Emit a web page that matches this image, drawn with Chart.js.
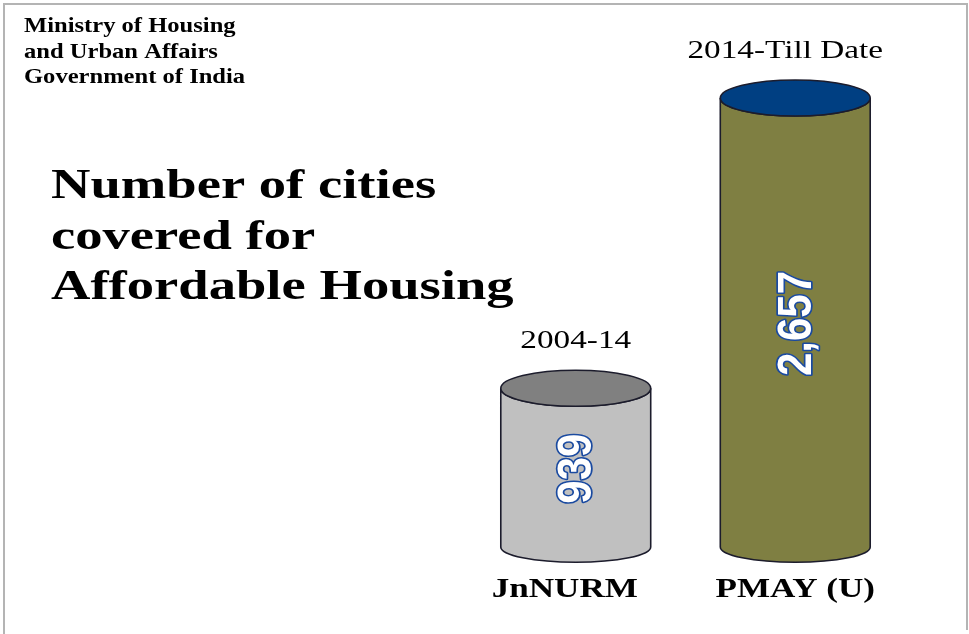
<!DOCTYPE html>
<html>
<head>
<meta charset="utf-8">
<script src="https://cdn.jsdelivr.net/npm/chart.js@4/dist/chart.umd.min.js"></script>
<style>
  html, body { margin: 0; padding: 0; background: #fff; }
  canvas { display: block; }
</style>
</head>
<body>
<canvas id="citiesChart" width="969" height="634"></canvas>
<script>
// Data
const schemes = ['JnNURM', 'PMAY (U)'];
const periods = ['2004-14', '2014-Till Date'];
const citiesCovered = [939, 2657];

const headerLines = ['Ministry of Housing', 'and Urban Affairs', 'Government of India'];
const titleLines = ['Number of cities', 'covered for', 'Affordable Housing'];

// Styles
const sideColors = ['#c0c0c0', '#7f7f42'];
const topColors = ['#808080', '#003f82'];
const outline = '#1c1c2c';
const ELLIPSE_RY = 18;
const SERIF = '"Liberation Serif", "Times New Roman", serif';
const SANS = '"Liberation Sans", Arial, sans-serif';

// the original slide is stretched sideways, so text gets a horizontal scale
function stretchedText(ctx, text, x, y, font, sx, align) {
    ctx.save();
    ctx.translate(x, y);
    ctx.scale(sx, 1);
    ctx.font = font;
    ctx.textAlign = align || 'left';
    ctx.textBaseline = 'alphabetic';
    ctx.fillStyle = '#000';
    ctx.fillText(text, 0, 0);
    ctx.restore();
}

const frameAndTitles = {
    id: 'frameAndTitles',
    beforeDraw(chart) {
        const ctx = chart.ctx;
        ctx.save();
        ctx.fillStyle = '#fff';
        ctx.fillRect(0, 0, chart.width, chart.height);
        // thin grey frame
        ctx.strokeStyle = '#b4b4b4';
        ctx.lineWidth = 2;
        ctx.beginPath();
        ctx.moveTo(4, chart.height);
        ctx.lineTo(4, 4);
        ctx.lineTo(967, 4);
        ctx.lineTo(967, chart.height - 4);
        ctx.stroke();
        ctx.restore();

        headerLines.forEach((line, i) => {
            stretchedText(ctx, line, 24, 32 + i * 25.5, 'bold 21px ' + SERIF, 1.17);
        });
        titleLines.forEach((line, i) => {
            stretchedText(ctx, line, 51, 198 + i * 50.5, 'bold 42px ' + SERIF, 1.3);
        });
    }
};

// Turns each bar element into a cylinder
const cylinders = {
    id: 'cylinders',
    afterDatasetsDraw(chart) {
        const ctx = chart.ctx;
        const meta = chart.getDatasetMeta(0);
        const periodShift = [0, -10];
        const labelShift = [-11, 0];

        meta.data.forEach((bar, i) => {
            const p = bar.getProps(['x', 'y', 'base', 'width'], true);
            const rx = p.width / 2;
            const left = p.x - rx;
            const right = p.x + rx;
            const ry = ELLIPSE_RY;

            ctx.save();
            ctx.lineWidth = 1.6;
            ctx.strokeStyle = outline;

            // body
            ctx.beginPath();
            ctx.moveTo(left, p.y);
            ctx.lineTo(left, p.base);
            ctx.ellipse(p.x, p.base, rx, ry * 0.85, 0, Math.PI, 0, true);
            ctx.lineTo(right, p.y);
            ctx.ellipse(p.x, p.y, rx, ry, 0, 0, Math.PI, false);
            ctx.closePath();
            ctx.fillStyle = sideColors[i];
            ctx.fill();
            ctx.stroke();

            // top
            ctx.beginPath();
            ctx.ellipse(p.x, p.y, rx, ry, 0, 0, Math.PI * 2);
            ctx.fillStyle = topColors[i];
            ctx.fill();
            ctx.stroke();
            ctx.restore();

            // period above, scheme below
            stretchedText(ctx, periods[i], p.x + periodShift[i], p.y - ry - 22,
                '25px ' + SERIF, 1.33, 'center');
            stretchedText(ctx, schemes[i], p.x + labelShift[i], p.base + 50,
                'bold 27px ' + SERIF, 1.3, 'center');

            // rotated value inside the cylinder
            const value = citiesCovered[i].toLocaleString('en-US');
            ctx.save();
            ctx.translate(p.x + 2, (p.y + p.base) / 2 + 1);
            ctx.rotate(-Math.PI / 2);
            ctx.scale(1, 1.15);
            ctx.font = 'bold 42px ' + SANS;
            ctx.textAlign = 'center';
            ctx.textBaseline = 'middle';
            ctx.lineJoin = 'round';
            ctx.lineWidth = 3;
            ctx.strokeStyle = '#1a4aa0';
            ctx.strokeText(value, 0, 0);
            ctx.fillStyle = '#fff';
            ctx.fillText(value, 0, 0);
            ctx.restore();
        });
    }
};

function initChart() {
    const ctx = document.getElementById('citiesChart').getContext('2d');

    new Chart(ctx, {
        type: 'bar',
        data: {
            labels: schemes,
            datasets: [{
                data: citiesCovered,
                backgroundColor: 'rgba(0,0,0,0)',
                borderWidth: 0,
                categoryPercentage: 1,
                barPercentage: 0.683
            }]
        },
        options: {
            responsive: false,
            animation: false,
            devicePixelRatio: 1,
            layout: {
                padding: { left: 466, right: 64, top: 40, bottom: 87 }
            },
            plugins: {
                legend: { display: false },
                tooltip: { enabled: false }
            },
            scales: {
                x: { display: false },
                y: { display: false, min: 0, max: 3000 }
            }
        },
        plugins: [frameAndTitles, cylinders]
    });
}

document.addEventListener('DOMContentLoaded', initChart);
</script>
</body>
</html>
